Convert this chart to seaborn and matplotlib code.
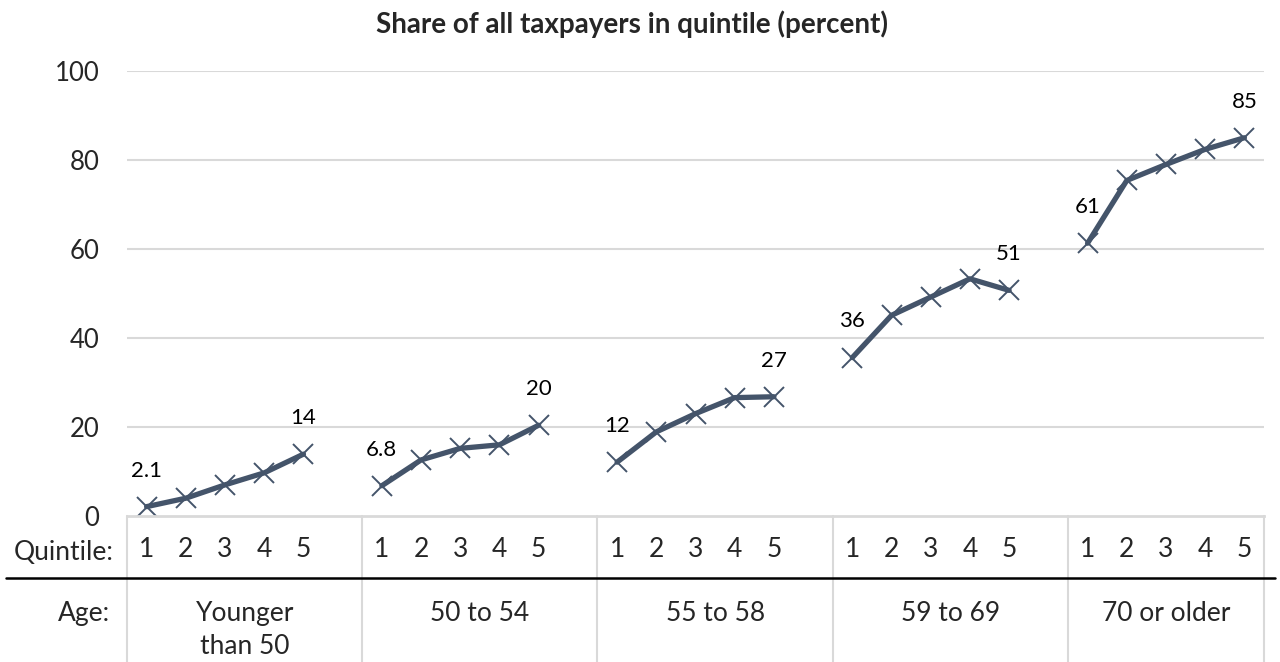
import matplotlib
matplotlib.use("Agg")
import matplotlib.pyplot as plt
import numpy as np
import pandas as pd
import seaborn as sns

# Data
age_groups = ["Younger\nthan 50", "50 to 54", "55 to 58", "59 to 69", "70 or older"]
quintiles = ["1", "2", "3", "4", "5"]
share_under_50 = [2.1, 4.0, 7.0, 9.7, 13.9]
share_50_54 = [6.8, 12.6, 15.2, 16.0, 20.4]
share_55_58 = [12.1, 18.9, 23.0, 26.6, 26.8]
share_59_69 = [35.6, 45.1, 49.2, 53.3, 50.7]
share_70_up = [61.3, 75.4, 79.0, 82.4, 85.0]
series = [share_under_50, share_50_54, share_55_58, share_59_69, share_70_up]

y_ticks = [0, 20, 40, 60, 80, 100]
title = "Share of all taxpayers in quintile (percent)"

LINE = "#44546A"
GRID = "#D9D9D9"
FS = 19

sns.set_theme(style="white")
plt.rcParams["font.family"] = ["Lato", "DejaVu Sans"]

# one blank slot between age groups
rows = []
for g, (age, vals) in enumerate(zip(age_groups, series)):
    for q, (ql, v) in enumerate(zip(quintiles, vals)):
        rows.append({"slot": g * 6 + q, "quintile": ql, "age": age, "share": v})
df = pd.DataFrame(rows)

fig = plt.figure(figsize=(12.8, 6.62), dpi=100)
ax = fig.add_axes([127 / 1280, 1 - 516 / 662, (1264 - 127) / 1280, 445 / 662])

for y in y_ticks[1:]:
    ax.axhline(y, color=GRID, lw=1.5, zorder=0)

sns.lineplot(data=df, x="slot", y="share", units="age", estimator=None,
             color=LINE, lw=3.8, marker="x", markersize=14,
             markeredgewidth=1.4, markeredgecolor=LINE, ax=ax, legend=False)

# labels on first and last point of each group
for age, vals in zip(age_groups, series):
    sub = df[df["age"] == age]
    for i in (0, len(sub) - 1):
        v = sub["share"].iloc[i]
        txt = f"{v:.1f}" if v < 10 else f"{v:.0f}"
        ax.annotate(txt, (sub["slot"].iloc[i], v), xytext=(0, 26),
                    textcoords="offset points", ha="center", va="center",
                    fontsize=16, color="black")

ax.set_xlim(-0.5, 28.5)
ax.set_ylim(0, 100)
ax.set_yticks(y_ticks)
ax.set_yticklabels([str(t) for t in y_ticks], fontsize=18.5)
ax.set_xticks(df["slot"])
ax.set_xticklabels(df["quintile"], fontsize=FS)
ax.tick_params(axis="both", length=0)
ax.tick_params(axis="y", pad=20)
ax.tick_params(axis="x", pad=15)
ax.set_xlabel("")
ax.set_ylabel("")
for s in ["top", "right", "left"]:
    ax.spines[s].set_visible(False)
ax.spines["bottom"].set_color(GRID)
ax.spines["bottom"].set_linewidth(2)

# category table under the axis
xt = ax.get_xaxis_transform()
bounds = [-0.5, 5.5, 11.5, 17.5, 23.5, 28.5]
for b in bounds:
    ax.plot([b, b], [0, -0.33], transform=xt, color=GRID, lw=1.5, clip_on=False)
for g, age in enumerate(age_groups):
    cx = (bounds[g] + bounds[g + 1]) / 2
    ax.text(cx, -0.19, age, transform=xt, ha="center", va="top",
            fontsize=FS, linespacing=1.42, clip_on=False)
ax.text(-0.012, -0.081, "Quintile:", transform=ax.transAxes, ha="right",
        va="center", fontsize=FS)
ax.text(-0.015, -0.19, "Age:", transform=ax.transAxes, ha="right",
        va="top", fontsize=FS)
ax.plot([-0.106, 1.01], [-0.139, -0.139], transform=ax.transAxes,
        color="black", lw=1.8, clip_on=False)

fig.text(632 / 1280, 1 - 24 / 662, title, ha="center", va="center",
         fontsize=20, fontweight="bold")

fig.savefig("out.png", dpi=100)
